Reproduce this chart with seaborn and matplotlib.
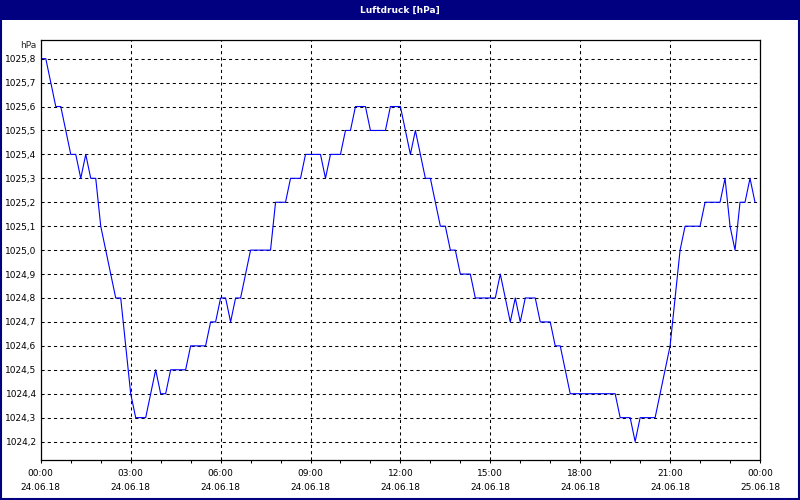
import pandas as pd
import numpy as np
import matplotlib
matplotlib.use("Agg")
import matplotlib.pyplot as plt
import matplotlib.dates as mdates
from matplotlib.patches import Rectangle
from matplotlib.ticker import FuncFormatter, MultipleLocator
import seaborn as sns

# Luftdruck, ein Wert alle 10 Minuten ab 24.06.18 00:00
druck = [
    1025.8, 1025.8, 1025.7, 1025.6, 1025.6, 1025.5, 1025.4, 1025.4, 1025.3, 1025.4,
    1025.3, 1025.3, 1025.1, 1025.0, 1024.9, 1024.8, 1024.8, 1024.6, 1024.4, 1024.3,
    1024.3, 1024.3, 1024.4, 1024.5, 1024.4, 1024.4, 1024.5, 1024.5, 1024.5, 1024.5,
    1024.6, 1024.6, 1024.6, 1024.6, 1024.7, 1024.7, 1024.8, 1024.8, 1024.7, 1024.8,
    1024.8, 1024.9, 1025.0, 1025.0, 1025.0, 1025.0, 1025.0, 1025.2, 1025.2, 1025.2,
    1025.3, 1025.3, 1025.3, 1025.4, 1025.4, 1025.4, 1025.4, 1025.3, 1025.4, 1025.4,
    1025.4, 1025.5, 1025.5, 1025.6, 1025.6, 1025.6, 1025.5, 1025.5, 1025.5, 1025.5,
    1025.6, 1025.6, 1025.6, 1025.5, 1025.4, 1025.5, 1025.4, 1025.3, 1025.3, 1025.2,
    1025.1, 1025.1, 1025.0, 1025.0, 1024.9, 1024.9, 1024.9, 1024.8, 1024.8, 1024.8,
    1024.8, 1024.8, 1024.9, 1024.8, 1024.7, 1024.8, 1024.7, 1024.8, 1024.8, 1024.8,
    1024.7, 1024.7, 1024.7, 1024.6, 1024.6, 1024.5, 1024.4, 1024.4, 1024.4, 1024.4,
    1024.4, 1024.4, 1024.4, 1024.4, 1024.4, 1024.4, 1024.3, 1024.3, 1024.3, 1024.2,
    1024.3, 1024.3, 1024.3, 1024.3, 1024.4, 1024.5, 1024.6, 1024.8, 1025.0, 1025.1,
    1025.1, 1025.1, 1025.1, 1025.2, 1025.2, 1025.2, 1025.2, 1025.3, 1025.1, 1025.0,
    1025.2, 1025.2, 1025.3, 1025.2,
]
zeit = pd.date_range("2018-06-24 00:00", periods=len(druck), freq="10min")
start = pd.Timestamp("2018-06-24 00:00")
ende = pd.Timestamp("2018-06-25 00:00")
titel = "Luftdruck [hPa]"
einheit = "hPa"

data = pd.DataFrame({"Zeit": zeit, "Luftdruck": druck})

sns.set_style("white")
plt.rcParams["font.family"] = ["DejaVu Sans"]
plt.rcParams["font.size"] = 6.5

fig = plt.figure(figsize=(8, 5), dpi=100)
fig.patch.set_facecolor("white")
ax = fig.add_axes([0.051, 0.08, 0.899, 0.84])

sns.lineplot(data=data, x="Zeit", y="Luftdruck", color="#0000ff", linewidth=0.8, ax=ax)

ax.set_xlim(start, ende)
ax.set_ylim(1024.123, 1025.878)
ax.yaxis.set_major_locator(MultipleLocator(0.1))
ax.yaxis.set_major_formatter(FuncFormatter(lambda v, p: f"{v:.1f}".replace(".", ",")))
ax.xaxis.set_major_locator(mdates.HourLocator(byhour=range(0, 24, 3)))
ax.xaxis.set_minor_locator(mdates.HourLocator())
ax.xaxis.set_major_formatter(mdates.DateFormatter("%H:%M\n%d.%m.%y"))

ax.grid(True, which="major", color="black", linestyle=(0, (3, 3)), linewidth=0.75)
ax.tick_params(axis="y", length=0, pad=3, labelsize=6.5, colors="black")
ax.tick_params(axis="x", which="both", direction="out", length=2.5, width=0.75,
               pad=4, labelsize=6.5, colors="black", bottom=True)
for lbl in ax.get_xticklabels():
    lbl.set_linespacing(1.75)
for s in ax.spines.values():
    s.set_color("black")
    s.set_linewidth(0.9)
ax.set_xlabel("")
ax.set_ylabel("")

ax.text(-0.006, 0.997, einheit, transform=ax.transAxes, ha="right", va="top", fontsize=6.5)

# Titelleiste und Rahmen
fig.patches.append(Rectangle((0, 0.96), 1, 0.04, transform=fig.transFigure,
                             facecolor="#000080", edgecolor="none", zorder=0))
fig.patches.append(Rectangle((0.001, 0.002), 0.998, 0.996, transform=fig.transFigure,
                             facecolor="none", edgecolor="#000080", linewidth=1.5))
fig.text(0.5, 0.98, titel, color="white", ha="center", va="center",
         fontsize=6.5, fontweight="bold")

fig.savefig("out.png", dpi=100)
